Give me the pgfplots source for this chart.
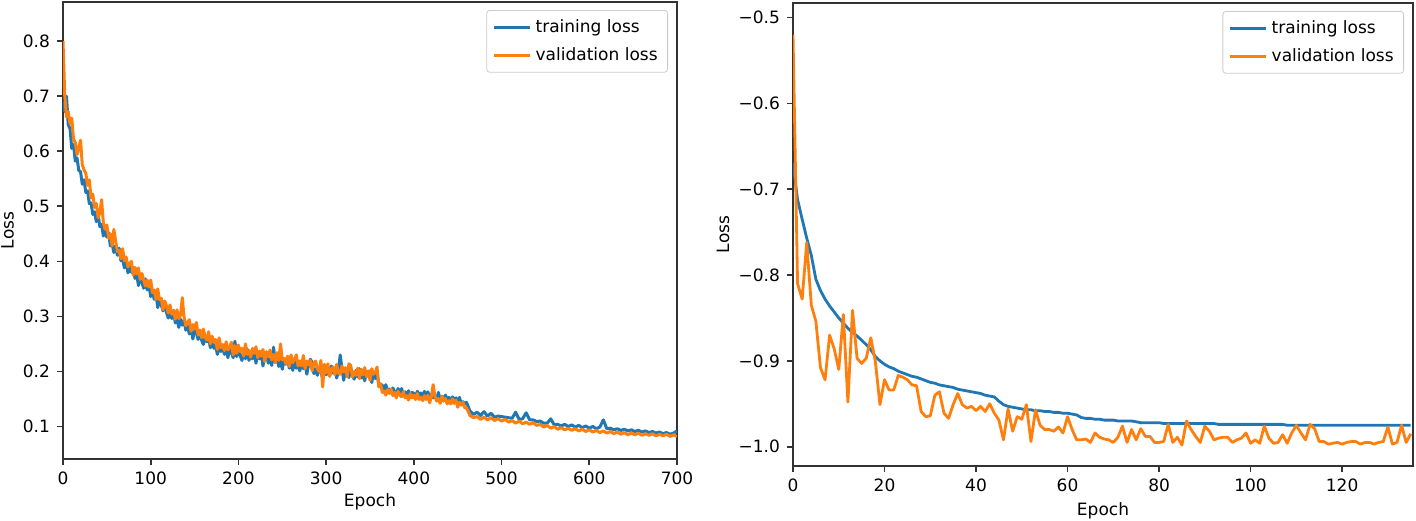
\documentclass[border=0pt]{standalone}
\usepackage{fontspec}
\setmainfont{DejaVu Sans}
\usepackage{pgfplots}
\usepackage{pgfplotstable}
\pgfplotsset{compat=1.18}
\definecolor{tabblue}{HTML}{1F77B4}
\definecolor{taborange}{HTML}{FF7F0E}
\newcommand{\fs}{\fontsize{8.5}{10}\selectfont}

\pgfplotstableread{
e t v
0 0.690 0.800
2 0.672 0.700
4 0.700 0.662
6 0.648 0.672
8 0.641 0.650
10 0.605 0.660
12 0.612 0.622
14 0.582 0.616
16 0.588 0.594
18 0.565 0.606
20 0.563 0.620
22 0.540 0.575
24 0.548 0.566
26 0.525 0.560
28 0.528 0.538
30 0.505 0.548
32 0.506 0.515
34 0.485 0.522
36 0.490 0.498
38 0.472 0.505
40 0.485 0.479
42 0.463 0.488
44 0.467 0.512
46 0.446 0.470
48 0.458 0.458
50 0.444 0.466
52 0.452 0.442
54 0.428 0.450
56 0.432 0.428
58 0.416 0.458
60 0.428 0.437
62 0.411 0.418
64 0.424 0.420
66 0.401 0.405
68 0.404 0.423
70 0.388 0.401
72 0.401 0.408
74 0.379 0.390
76 0.390 0.396
78 0.380 0.400
80 0.389 0.375
82 0.369 0.389
84 0.377 0.377
86 0.356 0.388
88 0.371 0.367
90 0.362 0.378
92 0.351 0.366
94 0.368 0.355
96 0.348 0.366
98 0.356 0.353
100 0.336 0.366
102 0.345 0.343
104 0.331 0.348
106 0.342 0.331
108 0.316 0.350
110 0.329 0.330
112 0.321 0.333
114 0.310 0.312
116 0.324 0.328
118 0.307 0.319
120 0.297 0.306
122 0.309 0.321
124 0.296 0.304
126 0.311 0.310
128 0.288 0.295
130 0.295 0.312
132 0.280 0.296
134 0.295 0.302
136 0.284 0.334
138 0.293 0.299
140 0.275 0.283
142 0.283 0.289
144 0.268 0.294
146 0.283 0.273
148 0.259 0.285
150 0.273 0.277
152 0.274 0.289
154 0.258 0.266
156 0.275 0.275
158 0.257 0.261
160 0.249 0.277
162 0.262 0.262
164 0.254 0.257
166 0.262 0.272
168 0.243 0.250
170 0.260 0.264
172 0.242 0.253
174 0.247 0.258
176 0.231 0.240
178 0.248 0.261
180 0.236 0.243
182 0.248 0.249
184 0.231 0.238
186 0.241 0.254
188 0.225 0.239
190 0.241 0.244
192 0.235 0.253
194 0.225 0.230
196 0.255 0.247
198 0.227 0.233
200 0.240 0.248
202 0.229 0.236
204 0.220 0.242
206 0.235 0.228
208 0.223 0.250
210 0.241 0.231
212 0.220 0.238
214 0.230 0.226
216 0.223 0.242
218 0.235 0.233
220 0.215 0.245
222 0.231 0.225
224 0.223 0.237
226 0.232 0.228
228 0.210 0.240
230 0.227 0.218
232 0.232 0.236
234 0.215 0.227
236 0.223 0.239
238 0.211 0.221
240 0.244 0.231
242 0.216 0.216
244 0.229 0.234
246 0.209 0.220
248 0.222 0.250
250 0.204 0.221
252 0.221 0.224
254 0.213 0.214
256 0.223 0.228
258 0.206 0.209
260 0.217 0.230
262 0.202 0.216
264 0.223 0.222
266 0.206 0.230
268 0.211 0.210
270 0.201 0.219
272 0.218 0.210
274 0.205 0.229
276 0.213 0.205
278 0.195 0.219
280 0.213 0.212
282 0.222 0.220
284 0.217 0.201
286 0.196 0.215
288 0.205 0.219
290 0.193 0.205
292 0.206 0.200
294 0.200 0.220
296 0.188 0.172
298 0.209 0.213
300 0.194 0.197
302 0.203 0.214
304 0.192 0.191
306 0.210 0.205
308 0.197 0.208
310 0.205 0.194
312 0.188 0.213
314 0.201 0.197
316 0.230 0.195
318 0.206 0.210
320 0.184 0.199
322 0.202 0.207
324 0.197 0.190
326 0.189 0.214
328 0.207 0.211
330 0.192 0.190
332 0.186 0.200
334 0.202 0.193
336 0.190 0.206
338 0.205 0.187
340 0.188 0.204
342 0.195 0.194
344 0.183 0.207
346 0.200 0.190
348 0.192 0.201
350 0.201 0.184
352 0.180 0.205
354 0.197 0.195
356 0.187 0.198
358 0.198 0.208
360 0.176 0.172
362 0.177 0.178
364 0.175 0.162
366 0.162 0.165
368 0.176 0.157
370 0.165 0.167
372 0.168 0.160
374 0.161 0.168
376 0.170 0.156
378 0.164 0.162
380 0.158 0.152
382 0.169 0.164
384 0.161 0.157
386 0.169 0.154
388 0.158 0.163
390 0.163 0.152
392 0.156 0.156
394 0.165 0.148
396 0.153 0.160
398 0.162 0.152
400 0.160 0.157
402 0.154 0.149
404 0.164 0.160
406 0.156 0.149
408 0.161 0.153
410 0.150 0.147
412 0.164 0.156
414 0.155 0.149
416 0.163 0.157
418 0.151 0.143
420 0.159 0.154
422 0.152 0.176
424 0.156 0.155
426 0.148 0.146
428 0.162 0.151
430 0.149 0.142
432 0.155 0.155
434 0.147 0.146
436 0.157 0.151
438 0.149 0.141
440 0.153 0.147
442 0.143 0.141
444 0.154 0.150
446 0.148 0.142
448 0.152 0.148
450 0.142 0.135
452 0.153 0.144
454 0.141 0.139
456 0.145 0.144
458 0.141 0.134
460 0.144 0.134
464 0.128 0.120
468 0.122 0.116
472 0.126 0.118
476 0.120 0.113
480 0.127 0.117
484 0.119 0.112
488 0.124 0.116
492 0.117 0.111
496 0.119 0.114
500 0.118 0.110
504 0.117 0.113
508 0.116 0.108
512 0.115 0.111
516 0.126 0.106
520 0.113 0.110
524 0.114 0.105
528 0.125 0.108
532 0.112 0.104
536 0.112 0.107
540 0.109 0.102
544 0.110 0.104
548 0.106 0.099
552 0.106 0.102
556 0.114 0.097
560 0.103 0.100
564 0.104 0.095
568 0.101 0.098
572 0.104 0.094
576 0.100 0.097
580 0.103 0.093
584 0.099 0.096
588 0.102 0.092
592 0.098 0.095
596 0.101 0.091
600 0.097 0.094
604 0.100 0.090
608 0.096 0.093
612 0.099 0.089
616 0.112 0.092
620 0.096 0.088
624 0.097 0.091
628 0.094 0.087
632 0.096 0.090
636 0.093 0.086
640 0.095 0.089
644 0.092 0.085
648 0.094 0.088
652 0.091 0.085
656 0.093 0.088
660 0.090 0.084
664 0.092 0.087
668 0.089 0.084
672 0.091 0.087
676 0.088 0.083
680 0.090 0.086
684 0.087 0.083
688 0.089 0.086
692 0.086 0.082
696 0.088 0.085
700 0.092 0.082
}\leftdata

\pgfplotstableread{
e t v
0 -0.670 -0.520
1 -0.712 -0.810
2 -0.735 -0.828
3 -0.757 -0.762
4 -0.777 -0.835
5 -0.805 -0.854
6 -0.818 -0.908
7 -0.828 -0.922
8 -0.836 -0.870
9 -0.843 -0.886
10 -0.850 -0.910
11 -0.856 -0.846
12 -0.862 -0.948
13 -0.867 -0.841
14 -0.871 -0.897
15 -0.876 -0.903
16 -0.881 -0.897
17 -0.887 -0.873
18 -0.895 -0.901
19 -0.900 -0.951
20 -0.904 -0.922
21 -0.907 -0.934
22 -0.909 -0.934
23 -0.912 -0.917
24 -0.914 -0.919
25 -0.916 -0.922
26 -0.918 -0.928
27 -0.919 -0.929
28 -0.921 -0.959
29 -0.923 -0.965
30 -0.925 -0.964
31 -0.926 -0.940
32 -0.928 -0.936
33 -0.929 -0.961
34 -0.930 -0.967
35 -0.931 -0.951
36 -0.933 -0.938
37 -0.934 -0.951
38 -0.935 -0.955
39 -0.936 -0.953
40 -0.937 -0.958
41 -0.938 -0.953
42 -0.940 -0.959
43 -0.941 -0.950
44 -0.942 -0.961
45 -0.947 -0.969
46 -0.951 -0.992
47 -0.953 -0.956
48 -0.954 -0.982
49 -0.955 -0.965
50 -0.956 -0.968
51 -0.957 -0.951
52 -0.957 -0.994
53 -0.958 -0.957
54 -0.958 -0.975
55 -0.959 -0.980
56 -0.959 -0.980
57 -0.960 -0.982
58 -0.960 -0.977
59 -0.961 -0.984
60 -0.961 -0.965
61 -0.962 -0.980
62 -0.963 -0.992
63 -0.966 -0.992
64 -0.967 -0.991
65 -0.967 -0.995
66 -0.968 -0.984
67 -0.968 -0.989
68 -0.969 -0.991
69 -0.969 -0.992
70 -0.969 -0.995
71 -0.970 -0.989
72 -0.970 -0.976
73 -0.970 -0.995
74 -0.970 -0.980
75 -0.971 -0.992
76 -0.972 -0.979
77 -0.972 -0.988
78 -0.972 -0.988
79 -0.972 -0.995
80 -0.972 -0.995
81 -0.973 -0.994
82 -0.973 -0.974
83 -0.973 -0.995
84 -0.973 -0.989
85 -0.973 -0.998
86 -0.973 -0.970
87 -0.973 -0.980
88 -0.973 -0.988
89 -0.973 -0.995
90 -0.973 -0.976
91 -0.973 -0.982
92 -0.973 -0.992
93 -0.974 -0.990
94 -0.974 -0.989
95 -0.974 -0.989
96 -0.974 -0.995
97 -0.974 -0.992
98 -0.974 -0.990
99 -0.974 -0.984
100 -0.974 -0.996
101 -0.974 -0.992
102 -0.974 -0.996
103 -0.974 -0.976
104 -0.974 -0.990
105 -0.974 -0.996
106 -0.974 -0.995
107 -0.974 -0.986
108 -0.975 -0.996
109 -0.975 -0.984
110 -0.975 -0.975
111 -0.975 -0.984
112 -0.975 -0.992
113 -0.975 -0.974
114 -0.975 -0.979
115 -0.975 -0.994
116 -0.975 -0.994
117 -0.975 -0.997
118 -0.975 -0.996
119 -0.975 -0.995
120 -0.975 -0.997
121 -0.975 -0.995
122 -0.975 -0.994
123 -0.975 -0.994
124 -0.975 -0.997
125 -0.975 -0.995
126 -0.975 -0.995
127 -0.975 -0.997
128 -0.975 -0.995
129 -0.975 -0.994
130 -0.975 -0.977
131 -0.975 -0.997
132 -0.975 -0.995
133 -0.975 -0.975
134 -0.975 -0.995
135 -0.975 -0.985
}\rightdata

\pgfplotsset{
  legend image code/.code={\draw[#1] (0pt,0pt) -- (18pt,0pt);},
  mplstyle/.style={
    scale only axis,
    axis line style={black!80, line width=0.8pt},
    tick align=outside, xtick pos=bottom, ytick pos=left,
    major tick length=3pt,
    tick style={black!80, line width=0.8pt},
    ticklabel style={font=\fs},
    legend style={at={(1,1)}, anchor=north east, xshift=-4.5pt, yshift=-4pt,
      draw=black!20, rounded corners=1.5pt, fill=white, font=\fs,
      inner xsep=3pt, inner ysep=2.5pt, row sep=2pt},
    legend cell align=left,
    every axis plot/.append style={line width=1.4pt, line join=round},
  }
}

\begin{document}
\begin{tikzpicture}
\useasboundingbox (0pt,0pt) rectangle (708pt,-260pt);

\begin{axis}[mplstyle,
  at={(31.5pt,-1pt)}, anchor=north west,
  width=307pt, height=228.5pt,
  xmin=0, xmax=700, ymin=0.041, ymax=0.871,
  xtick={0,100,200,300,400,500,600,700},
  xticklabels={0,100,200,300,400,500,600,700},
  ytick={0.1,0.2,0.3,0.4,0.5,0.6,0.7,0.8},
  yticklabels={0.1,0.2,0.3,0.4,0.5,0.6,0.7,0.8},
  xlabel={Epoch}, ylabel={Loss},
  every axis x label/.style={at={(axis description cs:0.5,-0.105)}, anchor=base, font=\fs},
  every axis y label/.style={at={(axis description cs:-0.0904,0.5)}, rotate=90, anchor=center, font=\fs},
]
\addplot[tabblue, line width=1.5pt] table[x=e, y=t] {\leftdata};
\addlegendentry{training loss}
\addplot[taborange, line width=1.5pt] table[x=e, y=v] {\leftdata};
\addlegendentry{validation loss}
\end{axis}

\begin{axis}[mplstyle,
  at={(396.5pt,-1.5pt)}, anchor=north west,
  width=310pt, height=231.5pt,
  xmin=0, xmax=135.5, ymin=-1.0225, ymax=-0.483,
  xtick={0,20,40,60,80,100,120},
  xticklabels={0,20,40,60,80,100,120},
  ytick={-1.0,-0.9,-0.8,-0.7,-0.6,-0.5},
  yticklabels={−1.0,−0.9,−0.8,−0.7,−0.6,−0.5},
  xlabel={Epoch}, ylabel={Loss},
  every axis x label/.style={at={(axis description cs:0.5,-0.107)}, anchor=base, font=\fs},
  every axis y label/.style={at={(axis description cs:-0.113,0.5)}, rotate=90, anchor=center, font=\fs},
]
\addplot[tabblue] table[x=e, y=t] {\rightdata};
\addlegendentry{training loss}
\addplot[taborange] table[x=e, y=v] {\rightdata};
\addlegendentry{validation loss}
\end{axis}
\end{tikzpicture}
\end{document}
